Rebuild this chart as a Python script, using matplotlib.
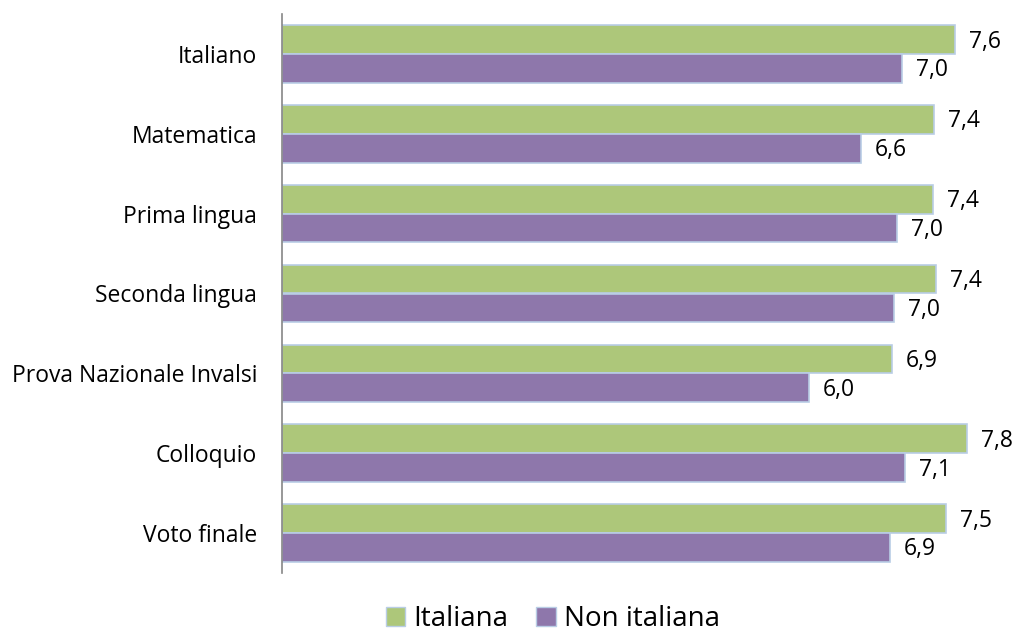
import matplotlib.pyplot as plt
from matplotlib.patches import Patch
import numpy as np

categories = ['Italiano', 'Matematica', 'Prima lingua', 'Seconda lingua',
              'Prova Nazionale Invalsi', 'Colloquio', 'Voto finale']
italiana = [7.64, 7.40, 7.39, 7.42, 6.92, 7.77, 7.54]
non_italiana = [7.03, 6.57, 6.98, 6.95, 5.98, 7.07, 6.90]
series_names = ['Italiana', 'Non italiana']

green = '#ADC77A'
purple = '#8E77AB'
edge = '#B9CDE5'

plt.rcParams['font.family'] = ['Open Sans', 'DejaVu Sans']

fig = plt.figure(figsize=(10.2, 6.37), dpi=100)
ax = fig.add_axes([282 / 1020, 1 - 573 / 637, 705 / 1020, 559 / 637])

y = np.arange(len(categories))
h = 0.36
b1 = ax.barh(y - h / 2, italiana, height=h, color=green, edgecolor=edge, linewidth=1.2)
b2 = ax.barh(y + h / 2, non_italiana, height=h, color=purple, edgecolor=edge, linewidth=1.2)

for bars, vals in ((b1, italiana), (b2, non_italiana)):
    for bar, v in zip(bars, vals):
        ax.annotate(f"{v:.1f}".replace('.', ','),
                    (bar.get_width(), bar.get_y() + bar.get_height() / 2),
                    xytext=(14, -2), textcoords='offset pixels',
                    ha='left', va='center', fontsize=16.5, color='black')

ax.set_ylim(len(categories) - 0.5, -0.5)
ax.set_xlim(0, 8)
ax.set_yticks(y)
ax.set_yticklabels(categories, fontsize=16.5)
ax.tick_params(axis='y', length=0, pad=18)
ax.set_xticks([])
for s in ('top', 'right', 'bottom'):
    ax.spines[s].set_visible(False)
ax.spines['left'].set_color('#868686')
ax.spines['left'].set_linewidth(1.2)

handles = [Patch(facecolor=green, edgecolor=edge, label=series_names[0]),
           Patch(facecolor=purple, edgecolor=edge, label=series_names[1])]
fig.legend(handles=handles, loc='center', bbox_to_anchor=(553 / 1020, 1 - 619 / 637),
           ncol=2, frameon=False, fontsize=20, handlelength=0.7, handleheight=0.7,
           handletextpad=0.3, columnspacing=1.0)

fig.savefig('out.png', dpi=100)
